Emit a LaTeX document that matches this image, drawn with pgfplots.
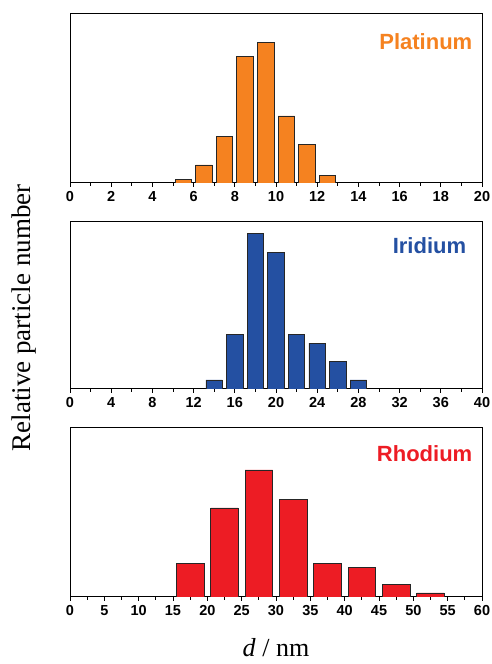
\documentclass[border=0pt]{standalone}
\usepackage{fontspec}
\setmainfont{Liberation Serif}
\setsansfont{Liberation Sans}
\usepackage{pgfplots}
\pgfplotsset{compat=1.18}

\definecolor{ptorange}{HTML}{F58220}
\definecolor{irblue}{HTML}{2450A2}
\definecolor{rhred}{HTML}{ED1C24}

\tikzset{lbl/.style={font=\sffamily\bfseries\fontsize{22}{24}\selectfont, anchor=base east}}

\pgfplotsset{
  panel/.style={
    width=412pt, height=169pt, scale only axis,
    ymin=0, ymax=100, ytick=\empty,
    xtick pos=bottom, tick align=outside,
    major tick length=4pt, minor tick length=3pt,
    minor x tick num=1,
    axis line style={line width=1pt},
    every tick/.style={black, line width=0.9pt},
    /pgf/number format/assume math mode=true,
    ticklabel style={font=\sffamily\bfseries\fontsize{14.5}{15}\selectfont},
    xticklabel style={yshift=-0.5pt},
    ybar, bar shift=0pt,
    every axis plot/.append style={draw=black!85, line width=0.8pt},
  },
}

\begin{document}
\begin{tikzpicture}
\path[use as bounding box] (0,0) rectangle (492pt,664pt);

% Platinum
\begin{axis}[panel, at={(70pt,650pt)}, anchor=north west,
  xmin=0, xmax=20, xtick distance=2, bar width=0.8]
\addplot[fill=ptorange] coordinates {
  (5.5,2.2) (6.5,10.7) (7.5,27.3) (8.5,75.1) (9.5,83.4) (10.5,39.7) (11.5,22.9) (12.5,4.3)};
\node[lbl, text=ptorange] at (rel axis cs:0.985,0.79) {Platinum};
\end{axis}

% Iridium
\begin{axis}[panel, at={(70pt,442pt)}, anchor=north west, height=167pt,
  xmin=0, xmax=40, xtick distance=4, bar width=1.6]
\addplot[fill=irblue] coordinates {
  (14,5.4) (16,32.8) (18,93.0) (20,81.9) (22,32.8) (24,27.4) (26,16.3) (28,5.4)};
\node[lbl, text=irblue] at (rel axis cs:0.97,0.81) {Iridium};
\end{axis}

% Rhodium
\begin{axis}[panel, at={(70pt,236pt)}, anchor=north west,
  xmin=0, xmax=60, xtick distance=5, bar width=4]
\addplot[fill=rhred] coordinates {
  (17.5,20.0) (22.5,52.7) (27.5,75.2) (32.5,57.6) (37.5,20.0) (42.5,17.6) (47.5,7.5) (52.5,2.4)};
\node[lbl, text=rhred] at (rel axis cs:0.985,0.80) {Rhodium};
\end{axis}

\node[rotate=90, font=\fontsize{27}{29}\selectfont] at (24pt,346pt) {Relative particle number};
\node[font=\fontsize{26}{28}\selectfont, anchor=base] at (276pt,8pt) {\textit{d} / nm};
\end{tikzpicture}
\end{document}
